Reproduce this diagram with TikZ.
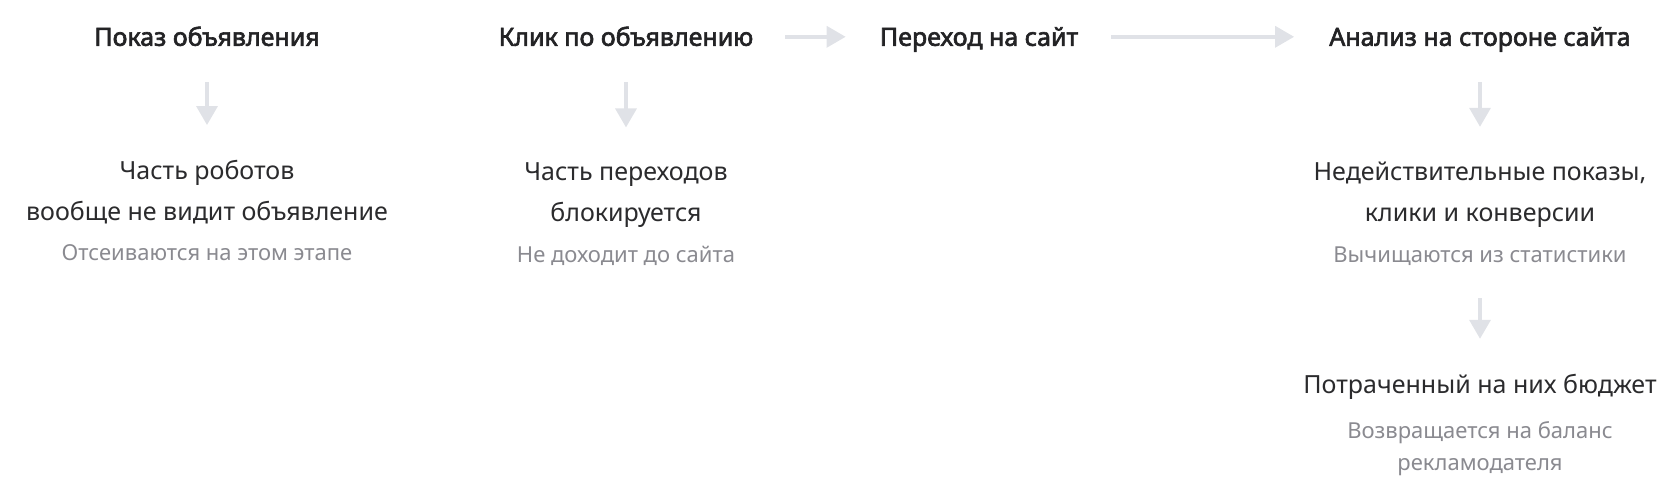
\documentclass[tikz,border=0pt]{standalone}
\usepackage{fontspec}
\setmainfont{Noto Sans}[AutoFakeBold=2.5]
\usetikzlibrary{arrows.meta}
\definecolor{headc}{HTML}{232325}
\definecolor{bodyc}{HTML}{2B2B2D}
\definecolor{notec}{HTML}{8A8A90}
\definecolor{arrc}{HTML}{E0E2E7}
\tikzset{
  head/.style={inner sep=0pt, text height=18pt, text depth=0pt, anchor=south, text=headc, font=\fontsize{25}{30}\selectfont\bfseries},
  body/.style={inner sep=0pt, align=center, anchor=base, text=bodyc, font=\fontsize{25}{41.5}\selectfont},
  note/.style={inner sep=0pt, align=center, anchor=base, text=notec, font=\fontsize{22}{32}\selectfont},
  arr/.style={draw=arrc, line width=3.5pt, -{Triangle[length=19pt,width=21pt]}},
}
\begin{document}
\begin{tikzpicture}[x=1pt,y=-1pt]
\useasboundingbox (0,0) rectangle (1672,478);
% headings
\node[head] (h1) at (207,46) {Показ объявления};
\node[head] (h2) at (626,46) {Клик по объявлению};
\node[head] (h3) at (979,46) {Переход на сайт};
\node[head] (h4) at (1480,46) {Анализ на стороне сайта};
% bodies (base anchor = last line)
\node[body] (b1) at (207,221) {Часть роботов\\вообще не видит объявление};
\node[note, text height=16pt, text depth=5pt] (n1) at (207,261) {Отсеиваются на этом этапе};
\node[body] (b2) at (626,222) {Часть переходов\\блокируется};
\node[note, text height=16pt, text depth=5pt] (n2) at (626,262) {Не доходит до сайта};
\node[body] (b4) at (1480,222) {Недействительные показы,\\клики и конверсии};
\node[note, text height=16pt, text depth=5pt] (n4) at (1480,262) {Вычищаются из статистики};
\node[body, text height=19pt, text depth=6pt] (b5) at (1480,393) {Потраченный на них бюджет};
\node[note] (n5) at (1480,470) {Возвращается на баланс\\рекламодателя};
% arrows
\draw[arr, shorten <=36pt, shorten >=35pt] (h1.south) -- (b1.north);
\draw[arr, shorten <=36pt, shorten >=35pt] (h2.south) -- (b2.north);
\draw[arr, shorten <=36pt, shorten >=35pt] (h4.south) -- (b4.north);
\draw[arr, shorten <=31pt, shorten >=35pt] (n4.south) -- (b5.north);
\draw[arr, shorten <=31.5pt, shorten >=34pt] (h2.east) -- (h3.west);
\draw[arr, shorten <=33pt, shorten >=35pt] (h3.east) -- (h4.west);
\end{tikzpicture}
\end{document}
